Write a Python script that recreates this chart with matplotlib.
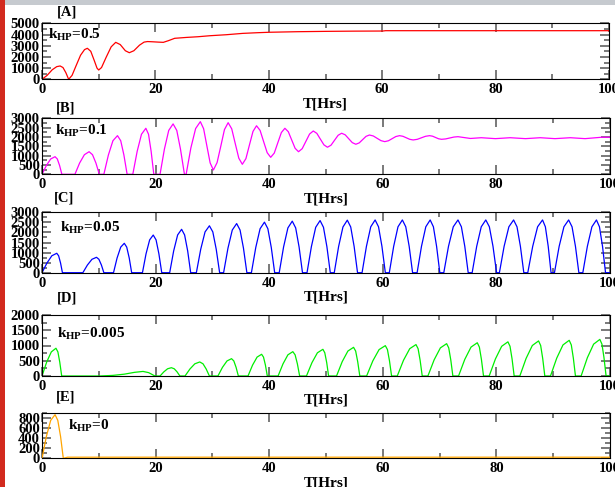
import matplotlib
matplotlib.use('Agg')
import matplotlib.pyplot as plt
import matplotlib.patches as mpatches
from matplotlib.ticker import MultipleLocator

plt.rcParams['font.family'] = ['Liberation Serif', 'DejaVu Serif']
plt.rcParams['font.weight'] = 'bold'
plt.rcParams['axes.labelweight'] = 'bold'
plt.rcParams['mathtext.fontset'] = 'custom'
plt.rcParams['mathtext.rm'] = 'Liberation Serif:bold'
plt.rcParams['mathtext.default'] = 'rm'

W, H = 615, 487

# ─── data (T in hours) ───
panel_labels = ['[A]', '[B]', '[C]', '[D]', '[E]']
k_hp = ['0.5', '0.1', '0.05', '0.005', '0']

a_t = [0, 0.9, 1.8, 2.6, 3.2, 3.7, 4.2, 4.7, 5.3, 6.0, 6.8, 7.5, 8.0, 8.6, 9.2, 9.7, 10.0,
       10.5, 11.3, 12.2, 13.0, 13.8, 14.7, 15.4, 16.2, 17.2, 18.0, 18.6, 19.5, 20.5, 21.4,
       22.3, 23.4, 25.5, 27.5, 29.6, 32.5, 35.4, 38.0, 40.1, 45.1, 50.0, 55.0, 60.1, 60.6, 100]
a_v = [0, 350, 850, 1130, 1190, 1050, 600, 0, 350, 1200, 2150, 2650, 2770, 2500, 1700, 1000, 830,
       1050, 1950, 2900, 3300, 3100, 2550, 2375, 2550, 3050, 3320, 3370, 3350, 3320, 3300,
       3450, 3660, 3740, 3800, 3890, 3980, 4100, 4160, 4200, 4250, 4280, 4300, 4310, 4340, 4340]

b_t = [0, 0.77, 1.53, 2.3, 2.7, 3.1, 3.5,
       5.8, 6.63, 7.47, 8.3, 8.9, 9.5, 10.1,
       10.9, 11.7, 12.5, 13.3, 13.87, 14.43, 15.0,
       16.0, 16.77, 17.53, 18.3, 18.77, 19.23, 19.7,
       20.8, 21.57, 22.33, 23.1, 23.75, 24.4, 25.1,
       25.4, 26.23, 27.07, 27.9, 28.48, 29.05, 29.63, 30.2,
       30.85, 31.5, 32.15, 32.8, 33.43, 34.05, 34.68, 35.3,
       35.93, 36.55, 37.18, 37.8, 38.43, 39.05, 39.68, 40.3,
       40.93, 41.55, 42.18, 42.8, 43.4, 44.0, 44.6, 45.2,
       45.85, 46.5, 47.15, 47.8, 48.43, 49.05, 49.68, 50.3,
       50.93, 51.55, 52.18, 52.8, 53.43, 54.05, 54.68, 55.3,
       55.9, 56.5, 57.1, 57.7, 58.38, 59.05, 59.73, 60.4,
       61.05, 61.7, 62.35, 63.0, 63.6, 64.2, 64.8, 65.4,
       66.13, 66.85, 67.58, 68.3, 68.83, 69.35, 69.88, 70.4,
       71.13, 71.85, 72.58, 73.3, 75.5, 77.4, 79.9, 82.5, 85.2, 87.8,
       90.4, 93.1, 95.7, 98.6, 100]
b_v = [0, 470, 820, 943, 820, 470, 0,
       0, 605, 1050, 1210, 1050, 605, 0,
       0, 1035, 1800, 2070, 1800, 1035, 0,
       0, 1230, 2145, 2465, 2145, 1230, 0,
       0, 1350, 2350, 2700, 2350, 1350, 0,
       0, 1410, 2450, 2820, 2441, 1525, 609, 230,
       626, 1498, 2394, 2765, 2438, 1650, 862, 536,
       838, 1568, 2298, 2600, 2352, 1755, 1158, 910,
       1138, 1688, 2238, 2465, 2282, 1838, 1394, 1210,
       1373, 1765, 2157, 2320, 2193, 1885, 1577, 1450,
       1560, 1825, 2090, 2200, 2114, 1905, 1696, 1610,
       1683, 1858, 2033, 2105, 2053, 1928, 1803, 1750,
       1797, 1910, 2023, 2070, 2036, 1955, 1874, 1840,
       1874, 1955, 2036, 2070, 2041, 1972, 1903, 1875,
       1895, 1945, 1995, 2015, 1920, 1960, 1910, 1960, 1910, 1960,
       1910, 1960, 1910, 1985, 1985]

c_t = [0, 0.87, 1.73, 2.6, 2.93, 3.27, 3.6,
       7.2, 8.0, 8.8, 9.6, 10.03, 10.47, 10.9,
       12.6, 13.23, 13.87, 14.5, 14.93, 15.37, 15.8,
       17.7, 18.33, 18.97, 19.6, 20.1, 20.6, 21.1,
       22.5, 23.2, 23.9, 24.6, 25.13, 25.67, 26.2,
       27.2, 27.97, 28.73, 29.5, 30.1, 30.7, 31.3,
       32.0, 32.77, 33.53, 34.3, 34.9, 35.5, 36.1,
       36.9, 37.67, 38.43, 39.2, 39.8, 40.4, 41.0,
       41.8, 42.57, 43.33, 44.1, 44.7, 45.3, 45.9,
       46.7, 47.47, 48.23, 49.0, 49.6, 50.2, 50.8,
       51.5, 52.27, 53.03, 53.8, 54.4, 55.0, 55.6,
       56.4, 57.17, 57.93, 58.7, 59.3, 59.9, 60.5,
       61.2, 61.97, 62.73, 63.5, 64.1, 64.7, 65.3,
       66.1, 66.87, 67.63, 68.4, 68.97, 69.53, 70.1,
       70.8, 71.63, 72.47, 73.3, 73.9, 74.5, 75.1,
       75.8, 76.6, 77.4, 78.2, 78.83, 79.47, 80.1,
       80.6, 81.43, 82.27, 83.1, 83.7, 84.3, 84.9,
       85.6, 86.47, 87.33, 88.2, 88.7, 89.2, 89.7,
       90.3, 91.13, 91.97, 92.8, 93.4, 94.0, 94.6,
       95.3, 96.1, 96.9, 97.7, 98.23, 98.77, 99.3, 100]
c_v = [0, 480, 840, 965, 840, 480, 0,
       0, 380, 665, 765, 665, 380, 0,
       0, 730, 1270, 1460, 1270, 730, 0,
       0, 935, 1630, 1870, 1630, 935, 0,
       0, 1080, 1875, 2155, 1875, 1080, 0,
       0, 1165, 2025, 2330, 2025, 1165, 0,
       0, 1220, 2120, 2440, 2120, 1220, 0,
       0, 1255, 2185, 2510, 2185, 1255, 0,
       0, 1280, 2225, 2560, 2225, 1280, 0,
       0, 1295, 2255, 2590, 2255, 1295, 0,
       0, 1305, 2270, 2610, 2270, 1305, 0,
       0, 1310, 2280, 2620, 2280, 1310, 0,
       0, 1310, 2280, 2620, 2280, 1310, 0,
       0, 1310, 2280, 2620, 2280, 1310, 0,
       0, 1310, 2280, 2620, 2280, 1310, 0,
       0, 1310, 2280, 2620, 2280, 1310, 0,
       0, 1310, 2280, 2620, 2280, 1310, 0,
       0, 1310, 2280, 2620, 2280, 1310, 0,
       0, 1310, 2280, 2620, 2280, 1310, 0,
       0, 1310, 2280, 2620, 2280, 1310, 0, 0]

d_t = [0, 0.82, 1.64, 2.46, 2.8, 3.13, 3.47,
       10.2, 12.5, 14.5, 16.3, 17.8, 18.8, 19.4, 19.9,
       20.8, 21.47, 22.13, 22.8, 23.3, 23.8, 24.3,
       25.2, 26.07, 26.93, 27.8, 28.37, 28.93, 29.5,
       31.0, 31.8, 32.6, 33.4, 33.8, 34.2, 34.6,
       36.3, 37.1, 37.9, 38.7, 39.03, 39.37, 39.7,
       41.6, 42.47, 43.33, 44.2, 44.6, 45.0, 45.4,
       46.6, 47.57, 48.53, 49.5, 49.83, 50.17, 50.5,
       51.9, 52.9, 53.9, 54.9, 55.27, 55.63, 56.0,
       57.2, 58.3, 59.4, 60.5, 60.87, 61.23, 61.6,
       62.6, 63.7, 64.8, 65.9, 66.27, 66.63, 67.0,
       68.0, 69.1, 70.2, 71.3, 71.67, 72.03, 72.4,
       73.4, 74.5, 75.6, 76.7, 77.07, 77.43, 77.8,
       78.8, 79.9, 81.0, 82.1, 82.47, 82.83, 83.2,
       84.2, 85.3, 86.4, 87.5, 87.87, 88.23, 88.6,
       89.6, 90.7, 91.8, 92.9, 93.27, 93.63, 94.0,
       95.0, 96.1, 97.2, 98.3, 98.67, 99.03, 99.4, 100]
d_v = [0, 455, 790, 910, 790, 455, 0,
       0, 20, 60, 120, 150, 110, 50, 0,
       0, 136, 237, 272, 237, 136, 0,
       0, 230, 400, 460, 400, 230, 0,
       0, 284, 494, 568, 494, 284, 0,
       0, 356, 620, 712, 620, 356, 0,
       0, 399, 694, 798, 694, 399, 0,
       0, 438, 761, 875, 761, 438, 0,
       0, 470, 818, 940, 818, 470, 0,
       0, 498, 866, 995, 866, 498, 0,
       0, 515, 896, 1030, 896, 515, 0,
       0, 530, 922, 1060, 922, 530, 0,
       0, 545, 948, 1090, 948, 545, 0,
       0, 560, 974, 1120, 974, 560, 0,
       0, 575, 1000, 1150, 1000, 575, 0,
       0, 585, 1018, 1170, 1018, 585, 0,
       0, 600, 1044, 1200, 1044, 600, 0, 0]

e_t = [0, 0.77, 1.53, 2.3, 2.78, 3.27, 3.75, 4.5, 100]
e_v = [0, 433, 754, 867, 754, 433, 0, 22, 22]

# ─── layout (pixel boxes: left, top, right, bottom) ───
panels = [
    (a_t, a_v, '#ff0000', 5000, 1000, (42, 23.3, 609, 79.3), (0.011, 0.714), (67, 12)),
    (b_t, b_v, '#ff00ff', 3000, 500, (42, 118.3, 609.5, 174.3), (0.023, 0.70), (65.5, 108.5)),
    (c_t, c_v, '#0000ff', 3000, 500, (42, 212.3, 609.5, 272.7), (0.032, 0.67), (64.5, 198)),
    (d_t, d_v, '#00ee00', 2000, 500, (42, 315, 609.5, 376), (0.026, 0.63), (67, 298)),
    (e_t, e_v, '#ffa500', 900, 200, (42, 413, 610, 458.3), (0.046, 0.63), (66, 397)),
]

fig = plt.figure(figsize=(W / 100, H / 100), dpi=100)
fig.add_artist(mpatches.Rectangle((0, 1 - 5 / H), 1, 5 / H, transform=fig.transFigure,
                                  facecolor='#c6cacf', edgecolor='none'))
fig.add_artist(mpatches.Rectangle((0, 0), 5 / W, 1, transform=fig.transFigure,
                                  facecolor='#d22a1e', edgecolor='none'))

for i, (t, v, col, ymax, major, box, kpos, lpos) in enumerate(panels):
    x0, y0, x1, y1 = box
    ax = fig.add_axes([x0 / W, 1 - y1 / H, (x1 - x0) / W, (y1 - y0) / H])
    # only the flat orange tail of [E] shows above the bottom axis line
    ax.plot(t, v, color=col, lw=0.9, zorder=3 if i == 4 else 2)
    ax.set_xlim(0, 100)
    ax.set_ylim(0, ymax)
    ax.xaxis.set_major_locator(MultipleLocator(20))
    ax.xaxis.set_minor_locator(MultipleLocator(10))
    ax.yaxis.set_major_locator(MultipleLocator(major))
    ax.yaxis.set_minor_locator(MultipleLocator(major / 2))
    ax.tick_params(which='both', direction='in', top=True, right=True, color='#555555', width=1.1)
    ax.tick_params(which='major', length=6.5)
    ax.tick_params(which='minor', length=3.5)
    ax.tick_params(axis='x', labelsize=10.5, pad=3)
    ax.tick_params(axis='y', labelsize=10.5, pad=1.5)
    for s in ax.spines.values():
        s.set_linewidth(0.8)
    ax.set_xlabel('T[Hrs]', fontsize=11, fontweight='bold', va='center')
    ax.xaxis.set_label_coords(0.5, -24.5 / (y1 - y0))
    ax.text(kpos[0], kpos[1], r'k$_{\mathrm{HP}}$=' + k_hp[i], transform=ax.transAxes,
            fontsize=11, va='baseline')
    fig.text(lpos[0] / W, 1 - lpos[1] / H, panel_labels[i], ha='center', va='center', fontsize=10.5)

fig.savefig('out.png', dpi=100)
plt.close()
